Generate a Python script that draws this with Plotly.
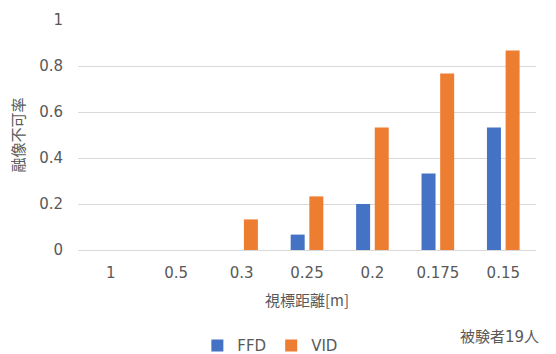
import plotly.graph_objects as go

# Viewing distance categories [m]
distances = ["1", "0.5", "0.3", "0.25", "0.2", "0.175", "0.15"]
# Fusion failure rate per display type
ffd_rate = [0, 0, 0, 0.067, 0.2, 0.333, 0.533]
vid_rate = [0, 0, 0.133, 0.233, 0.533, 0.767, 0.867]

y_ticks = [0, 0.2, 0.4, 0.6, 0.8, 1]
y_tick_text = ["0", "0.2", "0.4", "0.6", "0.8", "1"]

FONT = "DejaVu Sans, Noto Sans CJK JP, sans-serif"
CJK = "Noto Sans CJK JP, DejaVu Sans, sans-serif"
GRAY = "#595959"

fig = go.Figure()
fig.add_trace(go.Bar(
    name="FFD", x=distances, y=ffd_rate,
    marker=dict(color="#4472C4", line=dict(width=0)),
))
fig.add_trace(go.Bar(
    name="VID", x=distances, y=vid_rate,
    marker=dict(color="#ED7D31", line=dict(width=0)),
))

fig.update_layout(
    width=556, height=354,
    margin=dict(l=78, r=20, t=20, b=104, autoexpand=False),
    paper_bgcolor="white", plot_bgcolor="white",
    barmode="group", bargap=0.43, bargroupgap=0.25,
    font=dict(family=FONT, size=14, color=GRAY),
    showlegend=True,
    legend=dict(
        orientation="h", x=0.42, xanchor="center",
        yref="container", y=0.023, yanchor="middle",
        font=dict(family=FONT, size=15, color=GRAY),
        itemwidth=30, tracegroupgap=0,
    ),
    annotations=[dict(
        text="被験者19人", xref="paper", yref="paper",
        x=1.01, y=-0.33, xanchor="right", yanchor="top",
        showarrow=False, font=dict(family=FONT, size=15, color=GRAY),
    )],
)

fig.update_xaxes(
    showgrid=False, showline=False, zeroline=False,
    tickfont=dict(family=FONT, size=15, color=GRAY),
    ticks="", ticklabelstandoff=12,
    title=dict(text="視標距離[m]", font=dict(family=CJK, size=15, color=GRAY), standoff=14),
)
fig.update_yaxes(
    range=[0, 1], tickvals=y_ticks, ticktext=y_tick_text,
    showgrid=True, gridcolor="#d9d9d9", gridwidth=1,
    zeroline=True, zerolinecolor="#d9d9d9", zerolinewidth=1,
    showline=False, ticks="", ticklabelstandoff=14,
    tickfont=dict(family=FONT, size=15, color=GRAY),
    title=dict(text="融像不可率", font=dict(family=CJK, size=15, color=GRAY), standoff=10),
)

fig.write_html("out.html")
